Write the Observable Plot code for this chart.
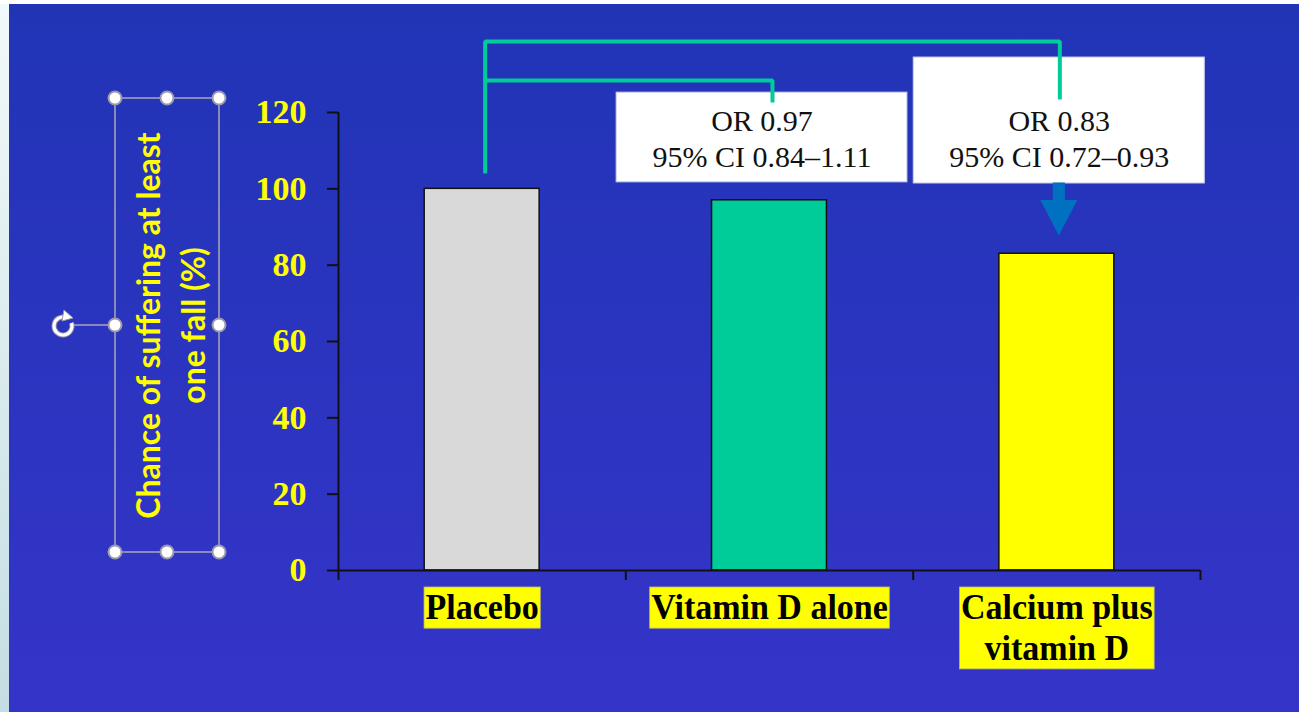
<!DOCTYPE html>
<html>
<head>
<meta charset="utf-8">
<script src="https://cdn.jsdelivr.net/npm/d3@7"></script>
<script src="https://cdn.jsdelivr.net/npm/@observablehq/plot@0.6"></script>
<style>
  html, body { margin: 0; padding: 0; background: #fff; }
  #slide { position: relative; width: 1299px; height: 712px; overflow: hidden; background: #fff; }
  #strip { position: absolute; left: 0; top: 4px; width: 9px; height: 708px; background: linear-gradient(#f2f9fa, #c4dee3); }
  #panel { position: absolute; left: 9px; top: 4px; width: 1290px; height: 708px; background: linear-gradient(#2134b6, #3534c9); }
  #chart { position: absolute; left: 0; top: 0; }
</style>
</head>
<body>
<div id="slide">
  <div id="strip"></div>
  <div id="panel"></div>
  <div id="chart"></div>
</div>
<script>
// Falls data: chance of at least one fall, relative to placebo (%)
const categories = ["Placebo", "Vitamin D alone", "Calcium plus\nvitamin D"];
const values = [100, 97, 83];
const barColors = ["#d9d9d9", "#00cc99", "#ffff00"];
const yTicks = [0, 20, 40, 60, 80, 100, 120];
const yTitle = "Chance of suffering at least\none fall (%)";

// Odds ratios of each treatment versus placebo
const comparedGroups = [1, 2];
const oddsRatios = [0.97, 0.83];
const ciLower = [0.84, 0.72];
const ciUpper = [1.11, 0.93];

const bars = categories.map((name, i) => ({name, i, value: values[i], color: barColors[i]}));

// Annotation placement (in scale units) for each comparison box and bracket
const boxLayout = [
  {x1: 0.968, x2: 1.98, y1: 101.7, y2: 125.2, level: 128.4, drop: 122.6},
  {x1: 2.002, x2: 3.015, y1: 101.4, y2: 134.4, level: 138.6, drop: 123.4}
];
const comparisons = comparedGroups.map((g, k) => ({
  group: g,
  label: `OR ${oddsRatios[k].toFixed(2)}\n95% CI ${ciLower[k].toFixed(2)}–${ciUpper[k].toFixed(2)}`,
  ...boxLayout[k]
}));
const bracketStart = 104.0;
const brackets = comparisons.flatMap((c, k) => [
  {k, x: 0.5, y: k === 0 ? c.level : bracketStart},
  {k, x: 0.5, y: c.level},
  {k, x: c.group + 0.5, y: c.level},
  {k, x: c.group + 0.5, y: c.drop}
]);

// Block arrow symbol (shaft + head), pointing down
const blockArrow = {
  draw(context, size) {
    const r = Math.sqrt(size / Math.PI);
    const sw = 0.23 * r, hw = 0.70 * r, neck = -0.34 * r;
    context.moveTo(-sw, -r);
    context.lineTo(sw, -r);
    context.lineTo(sw, neck);
    context.lineTo(hw, neck);
    context.lineTo(0, r);
    context.lineTo(-hw, neck);
    context.lineTo(-sw, neck);
    context.closePath();
  }
};

const serif = "'Liberation Serif', 'Times New Roman', serif";

const chart = Plot.plot({
  width: 1299,
  height: 712,
  marginLeft: 338,
  marginRight: 99,
  marginTop: 112,
  marginBottom: 142,
  style: {background: "transparent", overflow: "visible", fontFamily: serif},
  x: {domain: [0, categories.length]},
  y: {domain: [0, 120]},
  marks: [
    Plot.axisY({
      ticks: yTicks, tickSize: 11, tickPadding: 21, label: null,
      stroke: "#111", strokeWidth: 2,
      fill: "#ffff00", fontSize: 34, fontWeight: "bold", fontFamily: serif
    }),
    Plot.axisX({
      ticks: [0, 1, 2, 3], tickSize: 10, label: null, tickFormat: () => "",
      stroke: "#111", strokeWidth: 2
    }),
    Plot.rectY(bars, {
      x1: d => d.i + 0.3, x2: d => d.i + 0.7, y: "value",
      fill: d => d.color, stroke: "#111", strokeWidth: 1.5
    }),
    Plot.ruleX([0], {stroke: "#111", strokeWidth: 2}),
    Plot.ruleY([0], {stroke: "#111", strokeWidth: 2}),
    // category labels on yellow highlight
    Plot.text(bars, {
      x: d => d.i + 0.5, y: 0, text: "name", dy: 20, lineAnchor: "top",
      fontSize: 34, fontWeight: "bold", fontFamily: serif, lineHeight: 1.13,
      fill: "#000", ariaDescription: "category labels"
    }),
    // odds ratio boxes
    Plot.rect(comparisons, {
      x1: "x1", x2: "x2", y1: "y1", y2: "y2",
      fill: "#fff", stroke: "#c9cde8", strokeWidth: 1
    }),
    Plot.text(comparisons, {
      x: d => (d.x1 + d.x2) / 2, y: 113.4, text: "label",
      fontSize: 30, fontFamily: serif, lineHeight: 1.2, fill: "#111"
    }),
    // comparison brackets
    Plot.line(brackets, {
      x: "x", y: "y", z: "k", dx: 3,
      stroke: "#00cc99", strokeWidth: 4, strokeLinejoin: "miter", strokeLinecap: "butt", curve: "linear"
    }),
    // downward arrow under the significant comparison
    Plot.dot([comparisons[1]], {
      x: d => d.group + 0.5, y: 94.7, dx: 2, r: 26.5, symbol: blockArrow,
      fill: "#0070c0", stroke: "none"
    }),
    // y-axis title
    Plot.text([yTitle], {
      frameAnchor: "left", textAnchor: "middle", lineAnchor: "middle",
      rotate: -90, dx: -170, dy: -16,
      text: d => d, fontSize: 32, fontWeight: "bold",
      fontFamily: "Lato, 'Open Sans', sans-serif", lineHeight: 1.4, fill: "#ffff00"
    })
  ]
});

document.getElementById("chart").append(chart);

// yellow highlight behind each category label (labels drawn slightly tall)
d3.select(chart).selectAll('g[aria-description="category labels"] text').each(function () {
  const t = this.getAttribute("transform") + " scale(1,1.06)";
  this.setAttribute("transform", t);
  const b = this.getBBox();
  const padX = 1.5, padY = 0.5;
  d3.select(this.parentNode).insert("rect", () => this)
    .attr("transform", t)
    .attr("x", b.x - padX).attr("y", b.y - padY)
    .attr("width", b.width + 2 * padX).attr("height", b.height + 2 * padY)
    .attr("fill", "#ffff00").attr("stroke", "#b8b870").attr("stroke-width", 0.8);
});

// text-box selection frame around the y-axis title
const sel = d3.select(chart).append("g").attr("aria-hidden", "true");
const fx1 = 115, fx2 = 219, fy1 = 98, fy2 = 552, fxm = (fx1 + fx2) / 2, fym = (fy1 + fy2) / 2;
sel.append("rect").attr("x", fx1).attr("y", fy1).attr("width", fx2 - fx1).attr("height", fy2 - fy1)
  .attr("fill", "none").attr("stroke", "#a8a8b8").attr("stroke-width", 1.5);
sel.append("line").attr("x1", 74).attr("x2", fx1).attr("y1", fym).attr("y2", fym)
  .attr("stroke", "#a8a8b8").attr("stroke-width", 1.5);
const handles = [[fx1, fy1], [fxm, fy1], [fx2, fy1], [fx1, fym], [fx2, fym], [fx1, fy2], [fxm, fy2], [fx2, fy2]];
sel.selectAll("circle.h").data(handles).join("circle")
  .attr("cx", d => d[0]).attr("cy", d => d[1]).attr("r", 6.5)
  .attr("fill", "#fff").attr("stroke", "#9a9aaa").attr("stroke-width", 2);
// rotate handle
const rx = 63, ry = 326, rr = 9;
const arc = `M${rx + rr * Math.cos(-1.2)},${ry + rr * Math.sin(-1.2)} A${rr},${rr} 0 1,0 ${rx + rr * Math.cos(-0.35)},${ry + rr * Math.sin(-0.35)}`;
sel.append("path").attr("d", arc).attr("fill", "none").attr("stroke", "#9a9aaa").attr("stroke-width", 5);
sel.append("path").attr("d", arc).attr("fill", "none").attr("stroke", "#fff").attr("stroke-width", 3);
sel.append("path")
  .attr("d", `M${rx + 1},${ry - 16} L${rx + 10},${ry - 8} L${rx - 1},${ry - 5} Z`)
  .attr("fill", "#fff").attr("stroke", "#9a9aaa").attr("stroke-width", 1);
</script>
</body>
</html>
